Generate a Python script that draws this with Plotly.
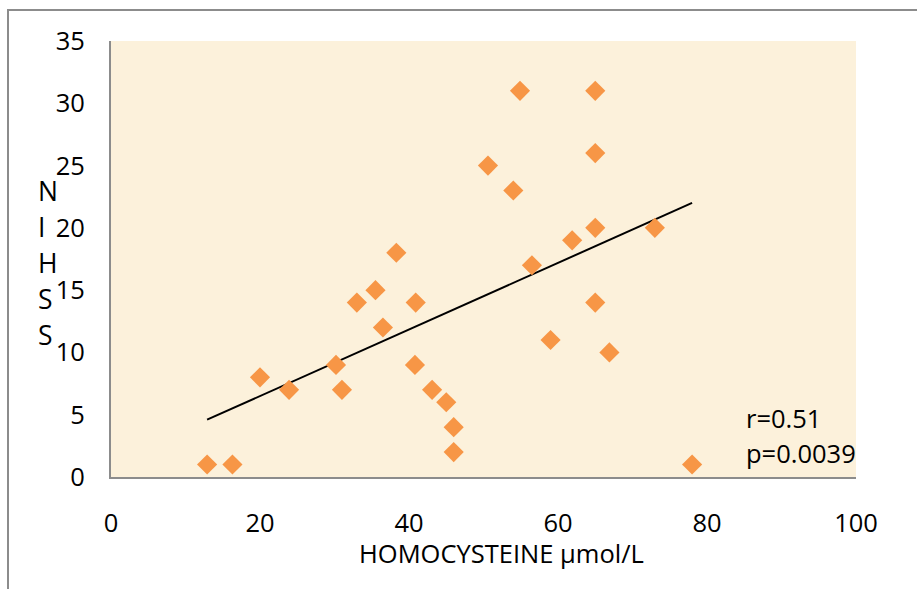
import plotly.graph_objects as go

# Data
homocysteine = [12.9, 16.3, 20.0, 23.9, 30.2, 31.0, 33.0, 35.5, 36.5, 38.3,
                40.9, 40.8, 43.1, 45.0, 46.0, 46.0, 50.6, 54.0, 54.9, 56.5,
                59.0, 61.9, 65.0, 65.0, 65.0, 65.0, 66.9, 73.0, 78.0]
nihss = [1, 1, 8, 7, 9, 7, 14, 15, 12, 18,
         14, 9, 7, 6, 4, 2, 25, 23, 31, 17,
         11, 19, 31, 26, 20, 14, 10, 20, 1]
# Linear trendline as drawn in the reference (start / end)
trend_x = [12.9, 78.0]
trend_y = [4.6, 22.0]
x_ticks = [0, 20, 40, 60, 80, 100]
y_ticks = [0, 5, 10, 15, 20, 25, 30, 35]
y_title_letters = ["N", "I", "H", "S", "S"]
stats_text = ["r=0.51", "p=0.0039"]

FONT = "Open Sans, Liberation Sans, sans-serif"
FS = 25.5

fig = go.Figure()
fig.add_trace(go.Scatter(
    x=trend_x, y=trend_y, mode="lines",
    line=dict(color="black", width=2),
    hoverinfo="skip", showlegend=False))
fig.add_trace(go.Scatter(
    x=homocysteine, y=nihss, mode="markers",
    marker=dict(symbol="diamond", size=15.5, color="#F79646"),
    showlegend=False))

W, H = 917, 589
ml, mr, mt, mb = 111, 61, 41, 112
pw, ph = W - ml - mr, H - mt - mb

def px_to_paper_x(px):
    return (px - ml) / pw

def px_to_paper_y(py):
    return (H - mb - py) / ph

annotations = []
# Stacked y-axis title
for i, letter in enumerate(y_title_letters):
    annotations.append(dict(
        text=letter, x=px_to_paper_x(36), y=px_to_paper_y(191 + i * 36),
        xref="paper", yref="paper", xanchor="left", yanchor="middle",
        showarrow=False, font=dict(family=FONT, size=FS + 1, color="black")))
# x-axis title
annotations.append(dict(
    text="HOMOCYSTEINE µmol/L", x=px_to_paper_x(501), y=px_to_paper_y(553),
    xref="paper", yref="paper", xanchor="center", yanchor="middle",
    showarrow=False, font=dict(family=FONT, size=FS, color="black")))
# statistics text
for i, t in enumerate(stats_text):
    annotations.append(dict(
        text=t, x=px_to_paper_x(744), y=px_to_paper_y(418 + i * 35),
        xref="paper", yref="paper", xanchor="left", yanchor="middle",
        showarrow=False, font=dict(family=FONT, size=FS, color="black")))

shapes = [
    # outer chart frame (left and top edges visible)
    dict(type="line", xref="paper", yref="paper",
         x0=px_to_paper_x(8), x1=px_to_paper_x(8),
         y0=px_to_paper_y(10), y1=px_to_paper_y(600),
         line=dict(color="#8C8C8C", width=2)),
    dict(type="line", xref="paper", yref="paper",
         x0=px_to_paper_x(7), x1=px_to_paper_x(930),
         y0=px_to_paper_y(10), y1=px_to_paper_y(10),
         line=dict(color="#8C8C8C", width=2)),
]

fig.update_layout(
    width=W, height=H,
    margin=dict(l=ml, r=mr, t=mt, b=mb, pad=0),
    paper_bgcolor="white",
    plot_bgcolor="#FCF1DB",
    font=dict(family=FONT, size=FS, color="black"),
    annotations=annotations,
    shapes=shapes,
    xaxis=dict(range=[0, 100], tickvals=x_ticks, showgrid=False, zeroline=False,
               showline=True, linecolor="#8C8C8C", linewidth=2,
               ticks="", ticklabelstandoff=22,
               tickfont=dict(family=FONT, size=FS), fixedrange=True),
    yaxis=dict(range=[0, 35], tickvals=y_ticks, showgrid=False, zeroline=False,
               showline=True, linecolor="#8C8C8C", linewidth=2,
               ticks="", ticklabelstandoff=19,
               tickfont=dict(family=FONT, size=FS), fixedrange=True),
)

fig.write_html("out.html")
